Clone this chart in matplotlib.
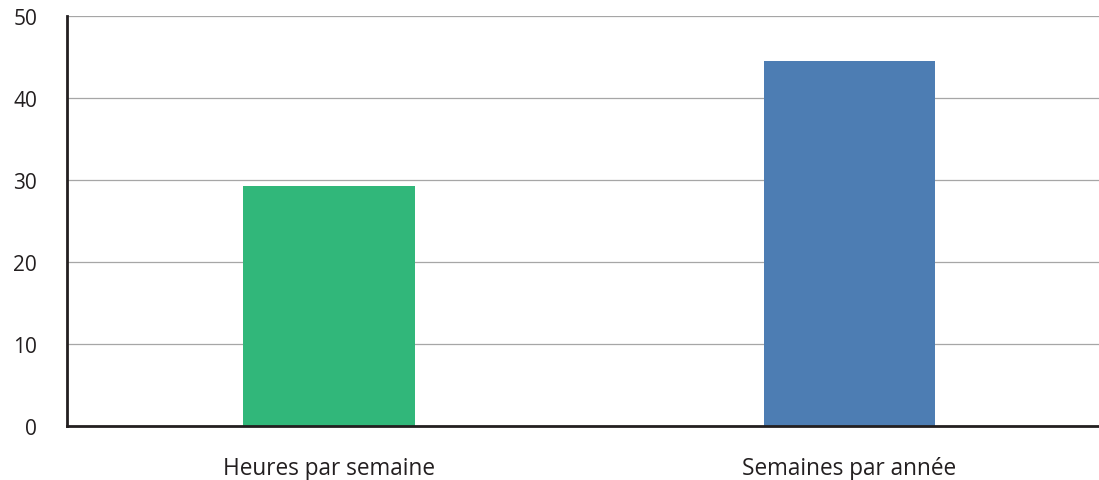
import matplotlib
matplotlib.use("Agg")
import matplotlib.pyplot as plt

plt.rcParams['font.family'] = ['Open Sans', 'DejaVu Sans']

categories = ["Heures par semaine", "Semaines par année"]
values = [29.3, 44.6]
colors = ["#31b77a", "#4d7db3"]
yticks = [0, 10, 20, 30, 40, 50]

fig = plt.figure(figsize=(10.99, 4.81), dpi=100)
ax = fig.add_axes([0.061, 0.1123, 0.939, 0.8514])

x = range(len(categories))
ax.bar(x, values, width=0.33, color=colors, zorder=3)

ax.set_xlim(-0.504, 1.48)
ax.set_ylim(0, 50)
ax.set_yticks(yticks)
ax.set_xticks(list(x))
ax.set_xticklabels(categories, fontsize=16.3, color="#231f20")
ax.tick_params(axis="y", length=0, pad=21.5, labelsize=15, labelcolor="#231f20")
ax.tick_params(axis="x", length=0, pad=21.5)

ax.yaxis.grid(True, color="#a6a6a6", linewidth=0.9, zorder=0)
ax.set_axisbelow(True)

for s in ["top", "right"]:
    ax.spines[s].set_visible(False)
for s in ["left", "bottom"]:
    ax.spines[s].set_color("#231f20")
    ax.spines[s].set_linewidth(2)
    ax.spines[s].set_zorder(4)

fig.savefig("out.png", dpi=100)
